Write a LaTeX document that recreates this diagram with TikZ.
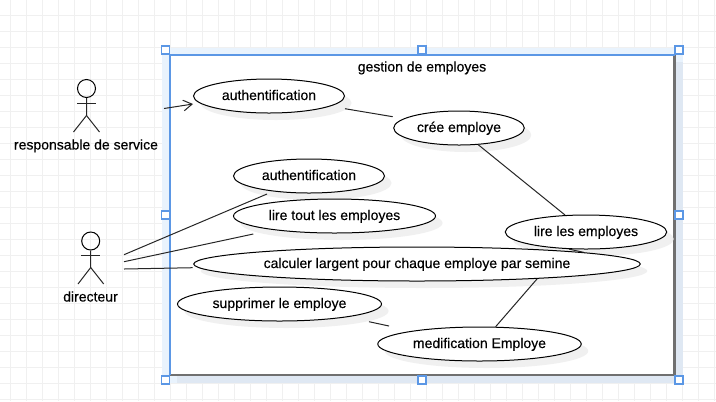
\documentclass[tikz,border=0pt]{standalone}
\usepackage{fontspec}
\setmainfont{Liberation Sans}
\newfontfamily\labelfont[FakeBold=0.3]{Liberation Sans}
\usepackage{xcolor}
\usetikzlibrary{arrows.meta,shapes.geometric,shadows}

\definecolor{gridcol}{HTML}{F0F0F0}
\definecolor{selblue}{HTML}{5B97E5}
\definecolor{selband}{HTML}{E9F3FD}
\definecolor{selshadow}{HTML}{DFE8F3}
\definecolor{boxgray}{HTML}{707070}
\definecolor{shadowcol}{HTML}{F0F0F0}

\begin{document}
\begin{tikzpicture}[
  x=0.75pt, y=-0.75pt,
  usecase/.style={ellipse, draw, fill=white, inner sep=0pt, minimum height=25.5pt, line width=0.75pt,
    font=\labelfont\fontsize{10.5pt}{12pt}\selectfont, text height=8pt, text depth=2pt,
    drop shadow={shadow xshift=5.25pt, shadow yshift=-5.25pt, fill=shadowcol, opacity=1}},
  head/.style={circle, draw, inner sep=0pt, minimum size=13.5pt, line width=0.75pt},
  caption/.style={inner sep=0pt, font=\labelfont\fontsize{10.5pt}{12pt}\selectfont, text height=8pt, text depth=2pt},
  handle/.style={rectangle, draw=selblue, fill=white, inner sep=0pt, minimum size=6pt, line width=1pt},
  link/.style={line width=0.75pt, draw=black!85}
]
\useasboundingbox (0,0) rectangle (716,401);
% grid
\foreach \gx in {10.5,26.5,...,714.5}
  \draw[gridcol, line width=0.75pt] (\gx,0) -- (\gx,401);
\foreach \gy in {15.5,31.5,...,399.5}
  \draw[gridcol, line width=0.75pt] (0,\gy) -- (716,\gy);

% selected frame
\fill[selband] (162,47.5) rectangle (682.5,383);
\fill[selshadow] (177,62) rectangle (682.5,383);
\draw[boxgray, fill=white, line width=2pt] (170,55) rectangle (674.5,375);
\draw[selblue, line width=1.1pt] (170,375) -- (170,55) -- (674.5,55);
\node[caption] (title) at (422,67.5) {gestion de employes};

% use cases
\node[usecase, minimum width=113.25pt] (auth1) at (269,96) {authentification};
\node[usecase, minimum width=97.9pt] (cree) at (459,128) {crée employe};
\node[usecase, minimum width=113.25pt] (auth2) at (309,176) {authentification};
\node[usecase, minimum width=151.5pt] (liretout) at (334.5,216) {lire tout les employes};
\node[usecase, minimum width=121.1pt] (lireles) at (586,232) {lire les employes};
\node[usecase, minimum width=334.9pt] (calcul) at (417,264) {calculer largent pour chaque employe par semine};
\node[usecase, minimum width=153pt] (suppr) at (279.5,304) {supprimer le employe};
\node[usecase, minimum width=152.6pt] (medif) at (479.5,344) {medification Employe};

% actors
\node[head] (resphead) at (86.5,88.5) {};
\node[caption] (resp) at (86,145.5) {responsable de service};
\draw[link] (resphead.south) -- ++(0,17.5) coordinate (resphip) -- (73.5,132);
\draw[link] (resphip) -- (99.5,132);
\draw[link] (77,103.7) -- (96,103.7);

\node[head] (dirhead) at (90.7,241) {};
\node[caption] (dir) at (90.5,297.5) {directeur};
\draw[link] (dirhead.south) -- ++(0,17) coordinate (dirhip) -- (78,284);
\draw[link] (dirhip) -- (103.7,284);
\draw[link] (81.2,255.7) -- (100.2,255.7);

% free ends
\coordinate (respout) at (164,108.5);
\coordinate (authin) at (193,104);
\coordinate (authout) at (345,108.7);
\coordinate (creein) at (392.7,116.7);
\coordinate (dirouta) at (124,254.7);
\coordinate (diroutb) at (124,261.7);
\coordinate (diroutc) at (124,269);
\coordinate (authb) at (267,194);
\coordinate (liretoutin) at (253.3,234);
\coordinate (calculin) at (192.7,267.7);
\coordinate (supprout) at (369,321.7);
\coordinate (medifin) at (389,326);

% connectors
\draw[link, -{Straight Barb[length=6.5pt,width=8pt]}] (respout) -- (authin);
\draw[link] (authout) -- (creein);
\draw[link] (cree.-41) -- (lireles.141);
\draw[link] (lireles.-135.7) -- (calcul.4.66);
\draw[link] (dirouta) -- (authb);
\draw[link] (diroutb) -- (liretoutin);
\draw[link] (diroutc) -- (calculin);
\draw[link] (calcul.-7.0) -- (medif.47.5);
\draw[link] (supprout) -- (medifin);

% handles
\foreach \hx/\hy/\hname in {165.5/50/a,422/50/b,679/50/c,165.5/215/d,679/215/e,165.5/380/f,422/380/g,679/380/h}
  \node[handle] (hand\hname) at (\hx,\hy) {};
\end{tikzpicture}
\end{document}
